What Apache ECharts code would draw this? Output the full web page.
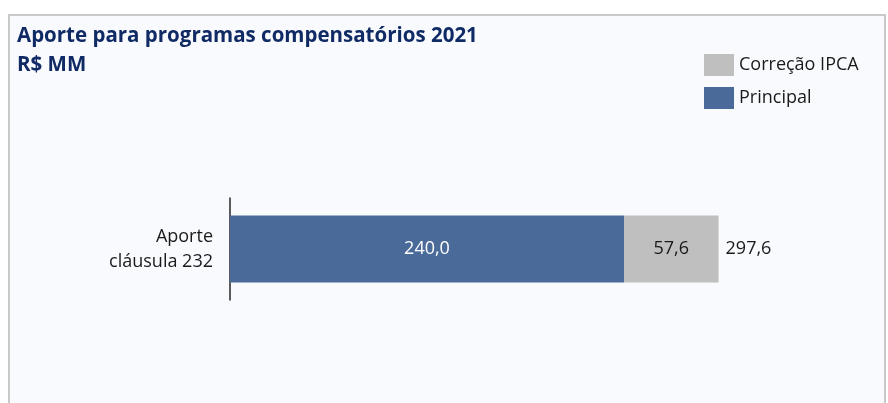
<!DOCTYPE html>
<html><head><meta charset="utf-8">
<script src="https://cdn.jsdelivr.net/npm/echarts@6/dist/echarts.min.js"></script>
<style>
html,body{margin:0;padding:0;background:#ffffff;}
#frame{position:absolute;left:8px;top:14px;width:874px;height:400px;border:2px solid #c9c9c9;border-bottom:none;background:#f9fafe;}
#chart{position:absolute;left:0;top:0;width:888px;height:403px;}
</style></head>
<body>
<div id="frame"></div>
<div id="chart"></div>
<script>
var categories = ['Aporte\ncláusula 232'];
var principal = [240.0];
var correcao = [57.6];
var totals = [297.6];
var seriesNames = ['Correção IPCA', 'Principal'];

var fmt = function (v) { return v.toFixed(1).replace('.', ','); };
var FONT = 'Open Sans';
var chart = echarts.init(document.getElementById('chart'), null, {renderer: 'canvas'});
chart.setOption({
  backgroundColor: 'transparent',
  animation: false,
  title: {
    text: 'Aporte para programas compensatórios 2021\nR$ MM',
    left: 12, top: 17, padding: 5,
    textStyle: {fontFamily: FONT, fontWeight: 'bold', fontSize: 20.5, color: '#0f2a64', lineHeight: 29}
  },
  legend: {
    orient: 'vertical', left: 704, top: 54, padding: 0,
    itemWidth: 30, itemHeight: 22, itemGap: 11, icon: 'rect',
    data: seriesNames,
    textStyle: {fontFamily: FONT, fontSize: 18, color: '#1a1a1a'},
    selectedMode: false
  },
  grid: {left: 230, top: 198, width: 492.5, height: 102},
  xAxis: {type: 'value', min: 0, max: 300, show: false},
  yAxis: {
    type: 'category', data: categories,
    axisLine: {show: true, lineStyle: {color: '#262626', width: 1.5}},
    axisTick: {show: false},
    axisLabel: {fontFamily: FONT, fontSize: 18, color: '#1a1a1a', lineHeight: 25, align: 'right', margin: 17}
  },
  series: [
    {
      name: 'Principal', type: 'bar', stack: 't', data: principal, barWidth: 67,
      itemStyle: {color: '#4a6a9a'},
      label: {show: true, position: 'inside', color: '#ffffff', fontFamily: FONT, fontSize: 18, formatter: function (p) { return fmt(p.value); }}
    },
    {
      name: 'Correção IPCA', type: 'bar', stack: 't', data: correcao, barWidth: 67,
      itemStyle: {color: '#bfbfbf'},
      label: {show: true, position: 'inside', color: '#1a1a1a', fontFamily: FONT, fontSize: 18, formatter: function (p) { return fmt(p.value); }}
    },
    {
      name: 'Total', type: 'bar', stack: 't', data: totals.map(function () { return 0; }), barWidth: 67,
      itemStyle: {color: 'transparent'},
      label: {show: true, position: 'right', distance: 7, color: '#1a1a1a', fontFamily: FONT, fontSize: 18,
        formatter: function (p) { return fmt(totals[p.dataIndex]); }}
    }
  ]
});
</script>
</body></html>
